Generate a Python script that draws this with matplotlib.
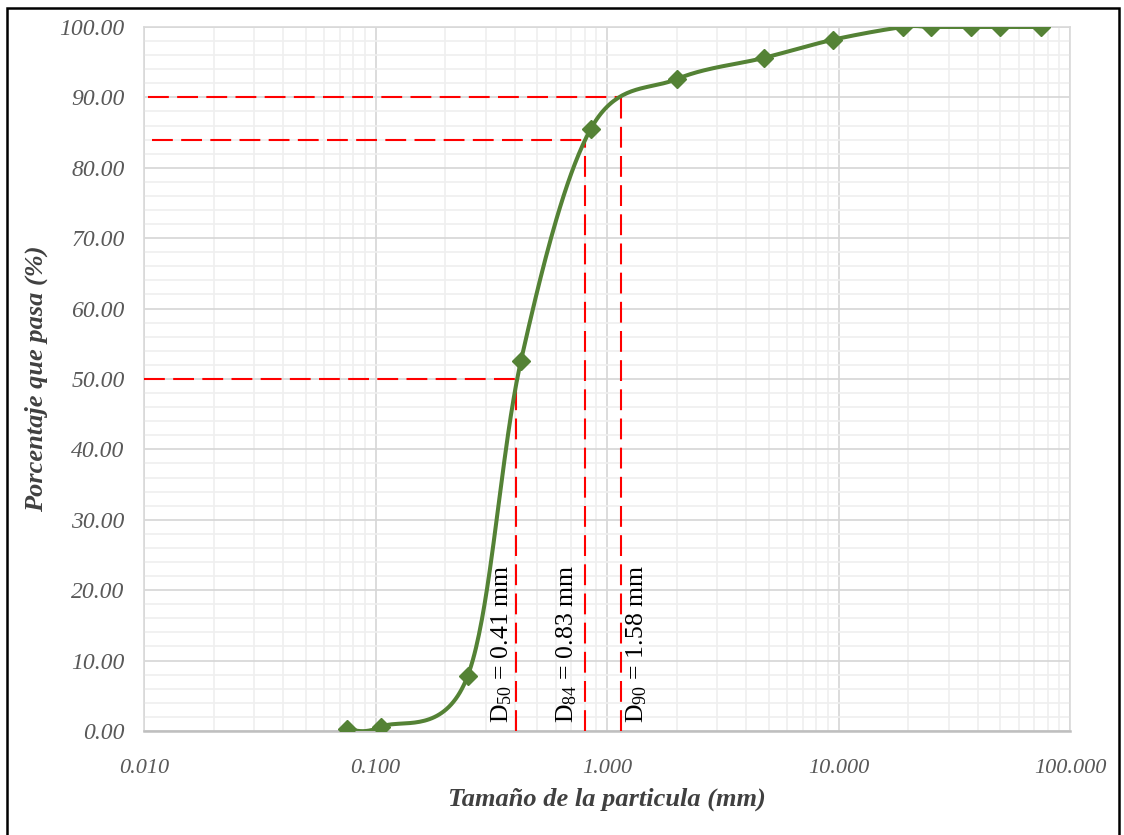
import numpy as np
import matplotlib.pyplot as plt
from matplotlib.patches import Rectangle

# granulometria
tamano_mm = [0.075, 0.106, 0.25, 0.425, 0.85, 2.0, 4.75, 9.5, 19.0, 25.0, 37.5, 50.0, 75.0]
pasa_pct = [0.3, 0.6, 7.8, 52.6, 85.5, 92.6, 95.6, 98.2, 100.0, 100.0, 100.0, 100.0, 100.0]

# diametros caracteristicos (posicion de la linea, nivel, etiqueta)
d_pos = [0.405, 0.80, 1.15]
d_nivel = [50, 84, 90]
d_texto = [r"D$_{50}$ = 0.41 mm", r"D$_{84}$ = 0.83 mm", r"D$_{90}$ = 1.58 mm"]
d_texto_x = [0.352, 0.672, 1.35]
d_linea_ini = [0.0100, 0.0108, 0.0104]

plt.rcParams["font.family"] = ["Liberation Serif", "DejaVu Serif"]
plt.rcParams["mathtext.fontset"] = "custom"
plt.rcParams["mathtext.rm"] = "Liberation Serif"
plt.rcParams["mathtext.it"] = "Liberation Serif:italic"


def suavizar(x, y, n=40):
    # curva suavizada tipo Excel (Catmull-Rom) en escala de pixeles
    u = np.log10(x) * 231.5
    v = np.asarray(y) * 7.04
    p = np.column_stack([u, v])
    out = []
    for i in range(len(p) - 1):
        p0 = p[i - 1] if i > 0 else p[i]
        p1, p2 = p[i], p[i + 1]
        p3 = p[i + 2] if i + 2 < len(p) else p[i + 1]
        c1 = p1 + (p2 - p0) / 6
        c2 = p2 - (p3 - p1) / 6
        t = np.linspace(0, 1, n)[:, None]
        seg = (1 - t) ** 3 * p1 + 3 * (1 - t) ** 2 * t * c1 + 3 * (1 - t) * t ** 2 * c2 + t ** 3 * p2
        out.append(seg)
    out = np.vstack(out)
    return 10 ** (out[:, 0] / 231.5), out[:, 1] / 7.04


fig = plt.figure(figsize=(11.24, 8.35), dpi=100)
ax = fig.add_axes([0.1281, 0.1246, 0.952 - 0.1281, 0.9677 - 0.1246])

ax.set_xscale("log")
ax.set_xlim(0.01, 100)
ax.set_ylim(0, 100)

ax.set_yticks(np.arange(0, 101, 10))
ax.set_yticks(np.arange(0, 101, 2), minor=True)
ax.set_xticks([0.01, 0.1, 1, 10, 100])
ax.set_xticklabels(["0.010", "0.100", "1.000", "10.000", "100.000"])
ax.set_yticklabels([f"{v:.2f}" for v in range(0, 101, 10)])
ax.grid(True, which="minor", color="#efefef", lw=1.2, zorder=0)
ax.grid(True, which="major", color="#d6d6d6", lw=1.2, zorder=0)
ax.tick_params(which="both", length=0)
ax.tick_params(axis="both", labelcolor="#595959")
ax.tick_params(axis="x", pad=20, labelsize=16)
ax.tick_params(axis="y", pad=14, labelsize=17)
for lab in ax.get_xticklabels() + ax.get_yticklabels():
    lab.set_fontstyle("italic")

for s in ax.spines.values():
    s.set_color("#d9d9d9")
    s.set_linewidth(1.2)
ax.spines["bottom"].set_color("#bfbfbf")
ax.spines["bottom"].set_linewidth(1.8)

# lineas rojas
for xp, lvl, x0 in zip(d_pos, d_nivel, d_linea_ini):
    ax.plot([xp, xp], [0, lvl], color="red", lw=1.5, dashes=(10, 4), zorder=3)
    ax.plot([x0, xp], [lvl, lvl], color="red", lw=1.5, dashes=(10, 4), zorder=3)

xs, ys = suavizar(tamano_mm, pasa_pct)
ax.plot(xs, ys, color="#548235", lw=2.9, zorder=4, solid_capstyle="round")
ax.plot(tamano_mm, pasa_pct, ls="none", marker="D", ms=9.5, color="#548235", zorder=5)

for tx, txt in zip(d_texto_x, d_texto):
    ax.text(tx, 1.1, txt, rotation=90, ha="center", va="bottom", fontsize=18.5, color="black", zorder=6)

ax.set_xlabel("Tamaño de la particula (mm)", fontsize=19, fontweight="bold", fontstyle="italic",
              color="#404040", labelpad=7)
ax.set_ylabel("Porcentaje que pasa (%)", fontsize=19, fontweight="bold", fontstyle="italic",
              color="#404040", labelpad=8)

fig.patches.append(Rectangle((7 / 1124, -0.01), 1112 / 1124, 1 - 8 / 835 + 0.01,
                             transform=fig.transFigure, fill=False, ec="black", lw=1.8))

fig.savefig("out.png", dpi=100)
